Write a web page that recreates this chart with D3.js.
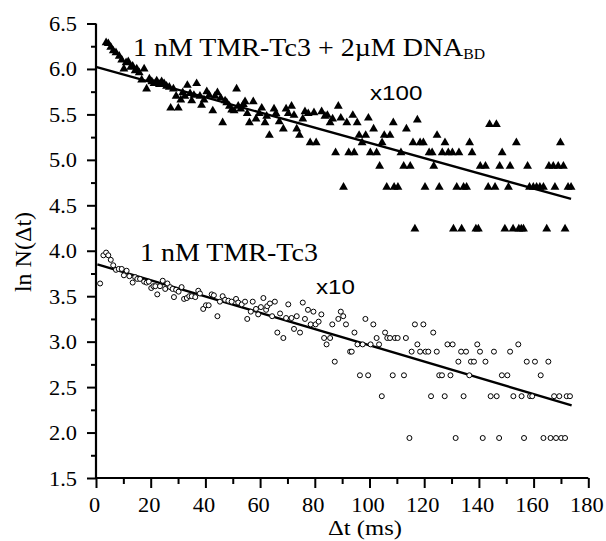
<!DOCTYPE html>
<html>
<head>
<meta charset="utf-8">
<script src="https://cdn.jsdelivr.net/npm/d3@7"></script>
<style>
  html, body { margin: 0; padding: 0; background: #fff; }
  svg { display: block; }
</style>
</head>
<body>
<svg id="chart" width="606" height="541"></svg>
<script>
// ---- data ----
const xTicks = [0, 20, 40, 60, 80, 100, 120, 140, 160, 180];
const yTicks = [1.5, 2.0, 2.5, 3.0, 3.5, 4.0, 4.5, 5.0, 5.5, 6.0, 6.5];

// upper series: 1 nM TMR-Tc3 + 2uM DNA_BD (x100), [dt ms, ln N]
const upperSeries = [
  [3.7,6.29],[4.5,6.28],[5.4,6.24],[6.3,6.20],[7.3,6.18],[8.5,6.14],[9.4,6.10],[10.2,6.00],[11.0,6.07],[11.8,6.08],
  [12.7,6.02],[13.4,6.03],[14.3,5.98],[14.9,6.00],[15.8,5.96],[16.7,5.88],[17.6,6.00],[18.5,5.78],[19.5,5.89],[20.4,5.86],
  [21.2,5.84],[22.2,5.87],[23.2,5.83],[24.0,5.86],[24.9,5.84],[25.8,5.81],[26.8,5.80],[27.3,5.57],[28.3,5.78],[29.3,5.70],
  [30.1,5.57],[31.0,5.66],[31.7,5.74],[32.5,5.70],[33.4,5.82],[34.4,5.73],[35.0,5.65],[35.8,5.71],[36.8,5.84],[38.0,5.70],
  [38.6,5.60],[39.5,5.66],[40.5,5.75],[41.4,5.71],[42.7,5.54],[43.5,5.70],[44.4,5.74],[45.6,5.68],[46.3,5.41],[47.2,5.65],
  [47.8,5.63],[48.8,5.59],[49.6,5.55],[50.5,5.54],[51.4,5.78],[52.0,5.59],[52.9,5.56],[53.9,5.61],[54.5,5.64],[55.3,5.51],
  [56.1,5.41],[57.5,5.64],[58.5,5.45],[59.7,5.51],[60.6,5.57],[61.8,5.41],[62.4,5.48],[63.4,5.27],[65.1,5.56],[65.8,5.51],
  [67.0,5.42],[68.5,5.34],[69.5,5.56],[70.3,5.51],[71.5,5.59],[72.4,5.49],[73.4,5.34],[74.4,5.27],[75.6,5.45],[76.4,5.53],
  [77.6,5.51],[78.3,5.19],[79.7,5.52],[80.5,5.19],[82.5,5.53],[83.7,5.48],[84.6,5.49],[85.6,5.41],[86.5,5.45],[87.6,5.08],
  [88.6,5.59],[89.5,5.46],[90.5,4.70],[91.7,5.41],[92.4,5.08],[93.9,5.49],[94.4,5.08],[95.5,5.41],[96.2,5.27],[97.3,5.19],
  [98.6,5.27],[99.6,5.46],[100.3,5.08],[101.5,5.34],[102.6,5.08],[103.7,4.93],[104.6,5.19],[105.4,5.27],[106.3,4.70],[107.5,5.27],
  [108.7,5.41],[109.0,4.70],[110.4,4.70],[111.5,5.08],[112.5,4.93],[113.5,5.34],[114.9,4.93],[115.9,5.19],[116.6,4.24],[117.5,5.44],
  [118.5,5.19],[119.7,5.19],[120.3,4.70],[121.8,5.08],[122.9,5.08],[123.5,4.93],[124.7,5.27],[125.5,4.70],[126.6,5.08],[127.6,5.19],
  [128.8,5.08],[130.3,5.08],[130.7,4.24],[131.9,4.70],[132.7,5.08],[133.7,4.24],[134.4,4.70],[135.5,4.70],[136.6,5.19],[137.5,5.08],
  [138.9,4.24],[139.8,4.24],[140.5,4.93],[142.4,4.93],[143.4,4.70],[143.9,5.39],[145.9,4.70],[146.4,5.39],[147.6,4.93],[148.5,5.08],
  [149.5,4.24],[150.8,4.70],[151.4,4.93],[152.5,4.24],[153.7,5.19],[154.6,4.24],[155.5,4.24],[156.3,4.24],[157.8,4.93],[158.5,4.70],
  [159.9,4.70],[161.1,4.70],[162.3,4.70],[163.6,4.70],[164.8,4.24],[165.6,4.93],[167.2,4.93],[167.8,4.70],[169.0,4.93],[169.8,5.19],
  [170.9,4.93],[171.5,4.24],[172.6,4.70],[173.7,4.70]
];

// lower series: 1 nM TMR-Tc3 (x10), [dt ms, ln N]
const lowerSeries = [
  [1.5,3.64],[2.7,3.95],[3.7,3.98],[4.5,3.95],[5.4,3.90],[6.3,3.84],[7.3,3.79],[8.3,3.80],[9.4,3.80],[10.2,3.73],
  [11.2,3.78],[12.2,3.72],[13.4,3.65],[14.3,3.71],[15.1,3.69],[16.1,3.69],[17.6,3.66],[18.5,3.65],[19.3,3.66],[20.2,3.59],
  [21.0,3.61],[21.7,3.61],[22.4,3.52],[23.4,3.61],[24.4,3.67],[25.3,3.58],[26.1,3.64],[27.1,3.60],[28.0,3.58],[28.5,3.49],
  [29.3,3.57],[30.2,3.55],[31.3,3.60],[32.2,3.47],[33.2,3.48],[34.1,3.50],[35.0,3.50],[36.3,3.49],[37.4,3.56],[38.0,3.53],
  [39.2,3.36],[40.2,3.40],[41.2,3.40],[42.3,3.52],[43.1,3.51],[44.4,3.28],[45.3,3.44],[46.3,3.50],[47.2,3.46],[48.4,3.45],
  [49.6,3.44],[51.2,3.47],[52.0,3.43],[53.3,3.41],[54.5,3.44],[55.3,3.25],[56.6,3.33],[57.3,3.44],[58.5,3.36],[59.3,3.30],
  [60.3,3.38],[61.2,3.48],[62.2,3.35],[62.6,3.39],[63.6,3.42],[64.4,3.28],[65.4,3.44],[66.3,3.10],[67.3,3.31],[68.5,3.04],
  [69.5,3.26],[70.3,3.41],[71.5,3.26],[72.4,3.14],[73.4,3.28],[74.6,3.10],[75.6,3.43],[76.4,3.25],[77.5,3.35],[78.5,3.19],
  [79.5,3.33],[80.3,3.19],[81.4,3.22],[82.4,3.30],[83.4,3.04],[84.3,2.97],[85.6,3.04],[86.4,3.19],[87.3,2.78],[88.6,3.25],
  [89.5,3.33],[90.4,3.28],[91.4,3.19],[92.9,2.89],[93.5,2.89],[94.5,3.10],[95.6,2.97],[96.5,2.63],[97.5,2.97],[98.5,3.25],
  [99.5,2.63],[100.4,2.97],[101.4,3.19],[102.6,3.04],[103.5,2.97],[104.5,2.40],[105.7,3.10],[106.5,3.04],[107.5,3.04],[108.5,2.63],
  [109.3,3.04],[110.3,3.04],[112.6,2.63],[113.3,3.04],[114.6,1.94],[115.4,2.89],[116.6,3.19],[117.5,2.97],[118.5,2.89],[119.7,3.19],
  [120.5,2.89],[121.5,2.89],[122.5,2.40],[123.3,3.10],[124.6,2.89],[125.5,2.63],[126.5,2.63],[127.5,2.40],[128.5,2.97],[129.6,2.63],
  [130.4,2.97],[131.5,1.94],[132.5,2.78],[133.5,2.89],[134.4,2.40],[135.3,2.89],[136.5,2.63],[137.1,2.78],[138.2,2.78],[139.4,2.97],
  [140.4,2.89],[141.4,1.94],[142.4,2.78],[144.3,2.40],[145.5,2.89],[146.5,2.40],[147.4,1.94],[148.4,2.63],[150.4,2.63],[151.4,2.89],
  [152.6,2.40],[154.4,2.97],[155.6,2.40],[156.5,1.94],[157.5,2.78],[158.7,2.40],[159.5,2.40],[160.5,2.78],[162.6,2.63],[163.6,1.94],
  [165.4,2.78],[166.2,1.94],[167.5,2.40],[168.2,1.94],[169.4,2.40],[170.1,1.94],[171.5,1.94],[172.1,2.40],[173.3,2.40]
];

// linear fits (endpoints)
const upperFit = [[0.3, 6.02], [173.7, 4.57]];
const lowerFit = [[0.5, 3.85], [173.9, 2.30]];

// ---- drawing ----
const svg = d3.select("#chart");
const x = d3.scaleLinear().domain([0, 180]).range([96, 588.3]);
const y = d3.scaleLinear().domain([1.5, 6.5]).range([478, 23.5]);
const serif = "Liberation Serif, Times New Roman, serif";
const sans = "Liberation Sans, Arial, sans-serif";
const SX = 1.12; // horizontal stretch of text in the original

// axes
const yAxisMajor = d3.axisLeft(y).tickValues(yTicks).tickSize(9).tickFormat(d3.format(".1f"));
const yAxisMinor = d3.axisLeft(y).tickValues(d3.range(1.75, 6.5, 0.5)).tickSize(5).tickFormat("");
const xAxisMajor = d3.axisBottom(x).tickValues(xTicks).tickSize(10).tickFormat(d3.format("d"));
const xAxisMinor = d3.axisBottom(x).tickValues(d3.range(10, 180, 20)).tickSize(6).tickFormat("");

function styleAxis(g) {
  g.select(".domain").attr("stroke", "#000").attr("stroke-width", 2.2);
  g.selectAll(".tick line").attr("stroke", "#000").attr("stroke-width", 2);
}

const gy = svg.append("g").attr("transform", `translate(${x(0)},0)`).call(yAxisMajor).call(styleAxis);
gy.select(".domain").attr("d", `M0,${y(1.5)}V${y(6.5)}`);
gy.selectAll(".tick text")
  .attr("font-family", serif).attr("font-size", 20).attr("fill", "#000")
  .attr("x", null).attr("dy", null)
  .attr("text-anchor", "end")
  .attr("transform", `translate(-19,7) scale(${SX},1)`);
const gym = svg.append("g").attr("transform", `translate(${x(0)},0)`).call(yAxisMinor).call(styleAxis);
gym.select(".domain").remove();

const gx = svg.append("g").attr("transform", `translate(0,${y(1.5)})`).call(xAxisMajor).call(styleAxis);
gx.select(".domain").attr("d", `M${x(0)},0H${x(180)}`);
gx.selectAll(".tick text")
  .attr("font-family", serif).attr("font-size", 20).attr("fill", "#000")
  .attr("y", null).attr("dy", null)
  .attr("text-anchor", "middle")
  .attr("transform", `translate(-2,34) scale(${SX},1)`);
const gxm = svg.append("g").attr("transform", `translate(0,${y(1.5)})`).call(xAxisMinor).call(styleAxis);
gxm.select(".domain").remove();

// fit lines
const line = d3.line().x(d => x(d[0])).y(d => y(d[1]));
svg.append("path").datum(upperFit).attr("d", line)
  .attr("fill", "none").attr("stroke", "#000").attr("stroke-width", 2.4);
svg.append("path").datum(lowerFit).attr("d", line)
  .attr("fill", "none").attr("stroke", "#000").attr("stroke-width", 2.4);

// upper markers: filled triangles
const tri = d3.symbol().type(d3.symbolTriangle).size(34);
svg.append("g").selectAll("path").data(upperSeries).join("path")
  .attr("d", tri)
  .attr("transform", d => `translate(${x(d[0])},${y(d[1])})`)
  .attr("fill", "#000");

// lower markers: open circles
svg.append("g").selectAll("circle").data(lowerSeries).join("circle")
  .attr("cx", d => x(d[0])).attr("cy", d => y(d[1])).attr("r", 2.5)
  .attr("fill", "#fff").attr("stroke", "#000").attr("stroke-width", 1);

// annotations
const t1 = svg.append("text").attr("transform", `translate(133,56) scale(${SX},1)`)
  .attr("font-family", serif).attr("font-size", 25).attr("fill", "#000");
t1.append("tspan").text("1 nM TMR-Tc3 + 2\u00B5M DNA");
t1.append("tspan").attr("font-size", 14).attr("dy", 3).text("BD");

svg.append("text").attr("transform", `translate(370,100) scale(1.15,1)`)
  .attr("font-family", sans).attr("font-size", 21).attr("fill", "#000").text("x100");

svg.append("text").attr("transform", `translate(140,261) scale(${SX},1)`)
  .attr("font-family", serif).attr("font-size", 25).attr("fill", "#000").text("1 nM TMR-Tc3");

svg.append("text").attr("transform", `translate(316,294) scale(1.15,1)`)
  .attr("font-family", sans).attr("font-size", 21).attr("fill", "#000").text("x10");

// axis titles
svg.append("text").attr("transform", `translate(365,535) scale(${SX},1)`)
  .attr("text-anchor", "middle")
  .attr("font-family", serif).attr("font-size", 22).attr("fill", "#000").text("\u0394t (ms)");

svg.append("text").attr("transform", `translate(31,252) rotate(-90)`)
  .attr("text-anchor", "middle")
  .attr("font-family", serif).attr("font-size", 24).attr("fill", "#000").text("ln N(\u0394t)");
</script>
</body>
</html>
